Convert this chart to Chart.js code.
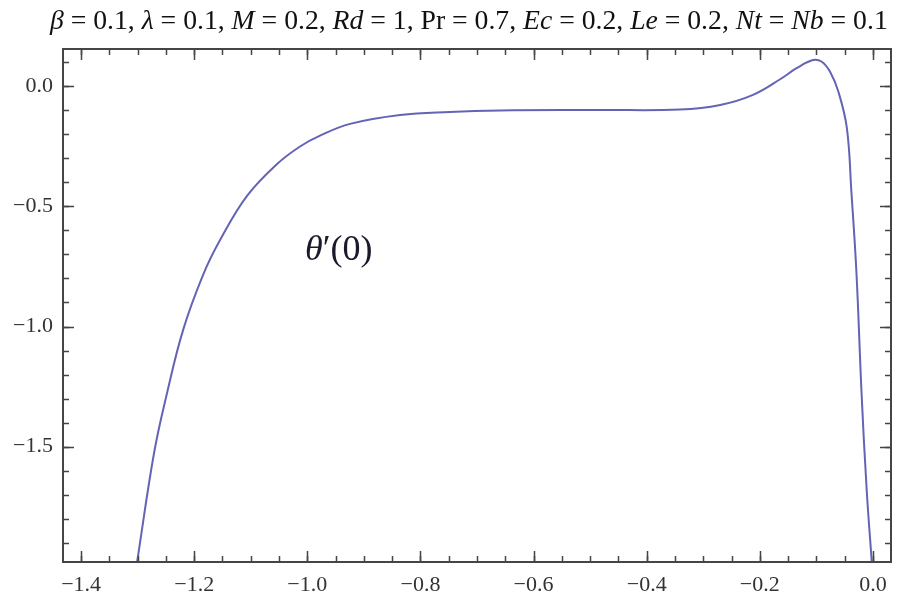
<!DOCTYPE html>
<html>
<head>
<meta charset="utf-8">
<script src="https://cdn.jsdelivr.net/npm/chart.js@4.4.0/dist/chart.umd.min.js"></script>
<style>
html, body { margin: 0; padding: 0; background: #fff; }
#wrap { width: 898px; height: 600px; }
</style>
</head>
<body>
<div id="wrap"><canvas id="myChart" width="898" height="600"></canvas></div>
<script>
// values
var etaValues = [-1.301, -1.271, -1.248, -1.2197, -1.1843, -1.1543, -1.1066, -1.0535, -1.0129, -0.9775,
    -0.9245, -0.836, -0.748, -0.659, -0.483, -0.341, -0.270, -0.212, -0.164, -0.135,
    -0.106, -0.091, -0.076, -0.061, -0.046, -0.038, -0.029, -0.020, -0.011, -0.002];
var thetaValues = [-1.981, -1.527, -1.277, -1.015, -0.785, -0.640, -0.456, -0.323, -0.250, -0.205,
    -0.156, -0.119, -0.106, -0.100, -0.098, -0.096, -0.077, -0.035, 0.030, 0.076,
    0.110, 0.104, 0.062, -0.022, -0.174, -0.44, -0.78, -1.28, -1.68, -1.981];

var xTickValues = [-1.4, -1.2, -1.0, -0.8, -0.6, -0.4, -0.2, 0.0];
var xTickLabels = ["\u22121.4", "\u22121.2", "\u22121.0", "\u22120.8", "\u22120.6", "\u22120.4", "\u22120.2", "0.0"];
var yTickValues = [0.0, -0.5, -1.0, -1.5];
var yTickLabels = ["0.0", "\u22120.5", "\u22121.0", "\u22121.5"];
var xMinorStep = 0.05;
var yMinorStep = 0.1;

// title pieces: [text, italic]
var titleParts = [
    ["\u03b2", true], [" = 0.1, ", false], ["\u03bb", true], [" = 0.1, ", false],
    ["M", true], [" = 0.2, ", false], ["Rd", true], [" = 1, ", false],
    ["Pr", false], [" = 0.7, ", false], ["Ec", true], [" = 0.2, ", false],
    ["Le", true], [" = 0.2, ", false], ["Nt", true], [" = ", false], ["Nb", true], [" = 0.1", false]
];
var curveLabelParts = [["\u03b8", true], ["\u2032(0)", false]];

var serif = '"Liberation Serif", "DejaVu Serif", serif';

function labelFor(values, labels, v) {
    for (var i = 0; i < values.length; i++) {
        if (Math.abs(values[i] - v) < 1e-9) return labels[i];
    }
    return '';
}

function drawParts(ctx, parts, size, x, y) {
    for (var i = 0; i < parts.length; i++) {
        ctx.font = (parts[i][1] ? 'italic ' : '') + size + 'px ' + serif;
        ctx.fillText(parts[i][0], x, y);
        x += ctx.measureText(parts[i][0]).width;
    }
}

function partsWidth(ctx, parts, size) {
    var w = 0;
    for (var i = 0; i < parts.length; i++) {
        ctx.font = (parts[i][1] ? 'italic ' : '') + size + 'px ' + serif;
        w += ctx.measureText(parts[i][0]).width;
    }
    return w;
}

var framePlugin = {
    id: 'frame',
    afterDraw: function (chart) {
        var ctx = chart.ctx;
        var a = chart.chartArea;
        var xs = chart.scales.x, ys = chart.scales.y;
        ctx.save();
        ctx.strokeStyle = '#454545';
        ctx.lineWidth = 1.5;
        var p, k;
        // minor ticks
        for (k = Math.ceil(xs.min / xMinorStep); k * xMinorStep <= xs.max + 1e-9; k++) {
            p = Math.round(xs.getPixelForValue(k * xMinorStep)) + 0.5;
            ctx.beginPath();
            ctx.moveTo(p, a.bottom); ctx.lineTo(p, a.bottom - 6);
            ctx.moveTo(p, a.top); ctx.lineTo(p, a.top + 6);
            ctx.stroke();
        }
        for (k = Math.ceil(ys.min / yMinorStep); k * yMinorStep <= ys.max + 1e-9; k++) {
            p = Math.round(ys.getPixelForValue(k * yMinorStep)) + 0.5;
            ctx.beginPath();
            ctx.moveTo(a.left, p); ctx.lineTo(a.left + 6, p);
            ctx.moveTo(a.right, p); ctx.lineTo(a.right - 6, p);
            ctx.stroke();
        }
        // major ticks
        xTickValues.forEach(function (v) {
            p = Math.round(xs.getPixelForValue(v)) + 0.5;
            ctx.beginPath();
            ctx.moveTo(p, a.bottom); ctx.lineTo(p, a.bottom - 11);
            ctx.moveTo(p, a.top); ctx.lineTo(p, a.top + 11);
            ctx.stroke();
        });
        yTickValues.forEach(function (v) {
            p = Math.round(ys.getPixelForValue(v)) + 0.5;
            ctx.beginPath();
            ctx.moveTo(a.left, p); ctx.lineTo(a.left + 11, p);
            ctx.moveTo(a.right, p); ctx.lineTo(a.right - 11, p);
            ctx.stroke();
        });
        // frame
        ctx.lineWidth = 2;
        ctx.strokeRect(a.left, a.top, a.right - a.left, a.bottom - a.top);

        // title, fitted to the width it has in the picture
        ctx.fillStyle = '#111';
        ctx.textBaseline = 'alphabetic';
        var size = 26;
        size = size * 838 / partsWidth(ctx, titleParts, size);
        drawParts(ctx, titleParts, size, 50, 29);

        // curve label
        ctx.fillStyle = '#1a1a2a';
        drawParts(ctx, curveLabelParts, 36, 305, 260);
        ctx.restore();
    }
};

var ctx = document.getElementById('myChart');
new Chart(ctx, {
    type: 'line',
    data: {
        datasets: [{
            data: etaValues.map(function (x, i) { return { x: x, y: thetaValues[i] }; }),
            borderColor: 'rgb(100, 100, 182)',
            borderWidth: 2,
            pointRadius: 0,
            tension: 0.4,
            fill: false
        }]
    },
    options: {
        responsive: false,
        animation: false,
        devicePixelRatio: 1,
        layout: { padding: { top: 49, right: 7, left: 0, bottom: 0 } },
        plugins: { legend: { display: false }, tooltip: { enabled: false }, title: { display: false } },
        scales: {
            x: {
                type: 'linear',
                min: -1.432,
                max: 0.032,
                grid: { display: false },
                border: { display: false },
                afterBuildTicks: function (s) { s.ticks = xTickValues.map(function (v) { return { value: v }; }); },
                afterFit: function (s) { s.height = 38; },
                ticks: {
                    autoSkip: false,
                    maxRotation: 0,
                    padding: 2,
                    color: '#333',
                    font: { family: serif, size: 22 },
                    callback: function (v) { return labelFor(xTickValues, xTickLabels, v); }
                }
            },
            y: {
                type: 'linear',
                min: -1.981,
                max: 0.156,
                grid: { display: false },
                border: { display: false },
                afterBuildTicks: function (s) { s.ticks = yTickValues.map(function (v) { return { value: v }; }); },
                afterFit: function (s) { s.width = 63; },
                ticks: {
                    autoSkip: false,
                    padding: 2,
                    color: '#333',
                    font: { family: serif, size: 22 },
                    callback: function (v) { return labelFor(yTickValues, yTickLabels, v); }
                }
            }
        }
    },
    plugins: [framePlugin]
});
</script>
</body>
</html>
